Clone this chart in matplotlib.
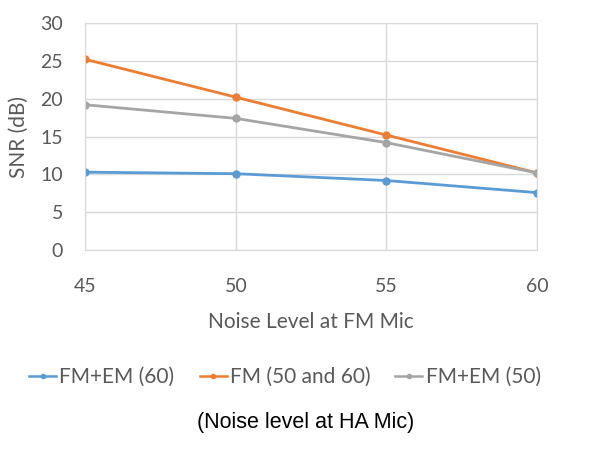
import matplotlib
matplotlib.use("Agg")
import matplotlib.pyplot as plt

noise_fm = [45, 50, 55, 60]
fm_em_60 = [10.3, 10.1, 9.2, 7.6]
fm_50_60 = [25.2, 20.2, 15.2, 10.2]
fm_em_50 = [19.2, 17.4, 14.2, 10.2]

plt.rcParams['font.family'] = ['Lato', 'DejaVu Sans']

fig = plt.figure(figsize=(6, 4.5), dpi=100)
ax = fig.add_axes([0.142, 0.444, 0.753, 0.505])

ax.plot(noise_fm, fm_em_60, color='#5B9BD5', lw=2, marker='o', ms=5, label='FM+EM (60)')
ax.plot(noise_fm, fm_50_60, color='#ED7D31', lw=2, marker='o', ms=5, label='FM (50 and 60)')
ax.plot(noise_fm, fm_em_50, color='#A5A5A5', lw=2, marker='o', ms=5, label='FM+EM (50)')

ax.set_xlim(45, 60)
ax.set_ylim(0, 30)
ax.set_xticks(noise_fm)
ax.set_yticks(range(0, 31, 5))
ax.grid(True, color='#D9D9D9', lw=1)
ax.set_axisbelow(True)
for s in ax.spines.values():
    s.set_color('#D9D9D9')
ax.tick_params(length=0, labelsize=14, labelcolor='#595959')
ax.tick_params(axis='x', pad=20)
ax.tick_params(axis='y', pad=16)

ax.set_xlabel('Noise Level at FM Mic', fontsize=15, color='#595959', labelpad=12)
ax.set_ylabel('SNR (dB)', fontsize=15, color='#595959', labelpad=8)

fig.legend(loc='center', bbox_to_anchor=(0.475, 0.162), ncol=3, frameon=False,
           fontsize=15, handlelength=1.3, handletextpad=0.15, columnspacing=1.2,
           labelcolor='#595959')
for h in fig.legends[0].legend_handles:
    h.set_markersize(3)
    h.set_linewidth(1.8)

fig.text(0.51, 0.062, '(Noise level at HA Mic)', ha='center', va='center',
         fontsize=15.5, family='Liberation Sans', color='black')

fig.savefig('out.png', dpi=100)
